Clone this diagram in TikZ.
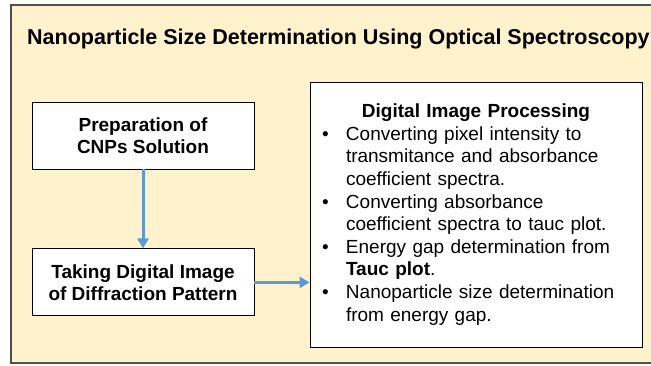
\documentclass[tikz,border=0pt]{standalone}
\usepackage{fontspec}
\setmainfont{Liberation Sans}
\usetikzlibrary{arrows.meta}
\usetikzlibrary{positioning}
\definecolor{mcream}{RGB}{255,242,204}
\definecolor{mframe}{RGB}{80,80,80}
\definecolor{mblue}{RGB}{91,155,213}

\begin{document}
\begin{tikzpicture}[x=1pt, y=1pt,
    stepbox/.style={draw=black, fill=white, line width=0.9pt, minimum width=222pt,
      minimum height=67pt, align=center, inner sep=0pt,
      font=\bfseries\fontsize{19}{22}\selectfont},
    flow/.style={mblue, line width=3pt, -{Triangle[length=10pt, width=11pt]}}]
      \useasboundingbox (0, 0) rectangle (651, 365);
      \draw [mframe, line width=1.5pt, fill=mcream] (11, 2) rectangle (670, 360);
      \node [anchor=base west, inner sep=0pt, font=\bfseries\fontsize{21.5}{24}\selectfont]
        (title) at (27, 320.5) {Nanoparticle Size Determination Using Optical Spectroscopy};
      \node [stepbox] (prep) at (143, 229.5) {Preparation of\\CNPs Solution};
      \node [stepbox, below=79pt of prep] (image) {Taking Digital Image\\of Diffraction Pattern};
      \node [draw=black, fill=white, line width=0.9pt, minimum width=332pt, minimum height=265pt,
        text width=308pt, inner sep=12pt, align=left, font=\fontsize{19}{22.6}\selectfont]
        (proc) at (476, 150.5) {%
        \makebox[308pt]{\bfseries Digital Image Processing}\\
        \makebox[24pt][l]{\textbullet}Converting pixel intensity to\\
        \hspace*{24pt}transmitance and absorbance\\
        \hspace*{24pt}coefficient spectra.\\
        \makebox[24pt][l]{\textbullet}Converting absorbance\\
        \hspace*{24pt}coefficient spectra to tauc plot.\\
        \makebox[24pt][l]{\textbullet}Energy gap determination from\\
        \hspace*{24pt}\textbf{Tauc plot}.\\
        \makebox[24pt][l]{\textbullet}Nanoparticle size determination\\
        \hspace*{24pt}from energy gap.};
      \draw [flow] (prep) -- (image);
      \draw [flow] (image.east) -- (image.east -| proc.west);
\end{tikzpicture}
\end{document}
